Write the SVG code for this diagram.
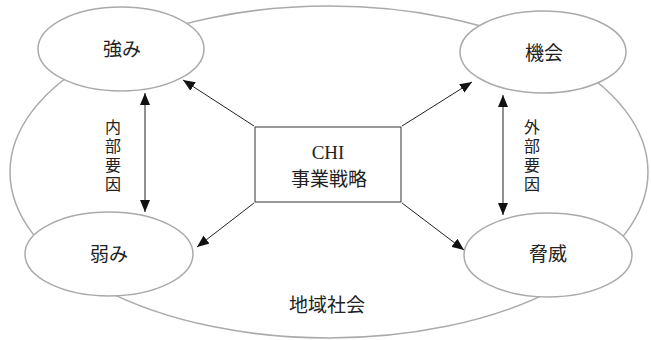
<svg xmlns="http://www.w3.org/2000/svg" width="651" height="340" viewBox="0 0 651 340">
<style>
.ell{fill:#fff;stroke:#aaaaaa;stroke-width:1.5}
.outer{fill:none;stroke:#aaaaaa;stroke-width:1.5}
.box{fill:#fff;stroke:#333;stroke-width:1}
.con{stroke:#222;stroke-width:1;fill:none}
.lbl{font-family:"Liberation Serif","Noto Sans CJK JP",serif;font-size:19px;fill:#222;text-anchor:middle}
.vl{font-family:"Liberation Serif","Noto Sans CJK JP",serif;font-size:16px;fill:#222;text-anchor:middle}
</style>
<defs>
<marker id="ah" viewBox="0 0 12 10" refX="12" refY="5" markerWidth="12" markerHeight="10" markerUnits="userSpaceOnUse" orient="auto-start-reverse">
<path d="M0,0 L12,5 L0,10 Z" fill="#111"/>
</marker>
</defs>
<g id="community">
<ellipse class="outer" cx="329" cy="172" rx="319" ry="166"/>
<text class="lbl" x="327" y="312">地域社会</text>
</g>
<g id="connectors">
<line class="con" x1="254" y1="126" x2="183" y2="80" marker-end="url(#ah)"/>
<line class="con" x1="402" y1="126" x2="472" y2="82" marker-end="url(#ah)"/>
<line class="con" x1="254" y1="203" x2="197" y2="247" marker-end="url(#ah)"/>
<line class="con" x1="402" y1="203" x2="464" y2="250" marker-end="url(#ah)"/>
<line class="con" x1="145" y1="93" x2="145" y2="212" marker-start="url(#ah)" marker-end="url(#ah)"/>
<line class="con" x1="503" y1="95" x2="503" y2="215" marker-start="url(#ah)" marker-end="url(#ah)"/>
</g>
<g id="strength">
<ellipse class="ell" cx="121" cy="49" rx="83" ry="42"/>
<text class="lbl" x="122" y="56">強み</text>
</g>
<g id="opportunity">
<ellipse class="ell" cx="543" cy="52" rx="83" ry="41"/>
<text class="lbl" x="544" y="60">機会</text>
</g>
<g id="weakness">
<ellipse class="ell" cx="109" cy="254" rx="84" ry="42"/>
<text class="lbl" x="109" y="261">弱み</text>
</g>
<g id="threat">
<ellipse class="ell" cx="548" cy="255" rx="84" ry="42"/>
<text class="lbl" x="548" y="261">脅威</text>
</g>
<g id="strategy">
<rect class="box" x="255" y="127" width="146" height="75"/>
<text class="lbl" x="328" y="159">CHI</text>
<text class="lbl" x="329" y="186">事業戦略</text>
</g>
<g id="internal">
<text class="vl" x="113" y="133">内</text>
<text class="vl" x="113" y="152">部</text>
<text class="vl" x="113" y="171">要</text>
<text class="vl" x="113" y="190">因</text>
</g>
<g id="external">
<text class="vl" x="532" y="133">外</text>
<text class="vl" x="532" y="152">部</text>
<text class="vl" x="532" y="171">要</text>
<text class="vl" x="532" y="190">因</text>
</g>
</svg>
